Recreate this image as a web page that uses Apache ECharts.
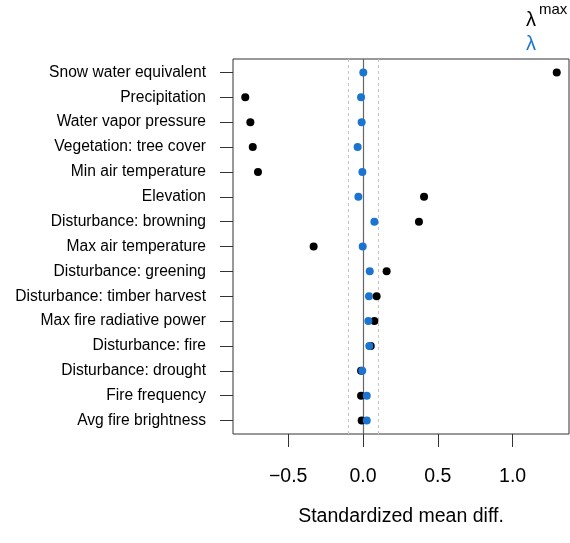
<!DOCTYPE html>
<html>
<head>
<meta charset="utf-8">
<script src="https://cdn.jsdelivr.net/npm/echarts@6/dist/echarts.min.js"></script>
<style>
html,body{margin:0;padding:0;background:#fff;}
#chart{width:570px;height:543px;}
</style>
</head>
<body>
<div id="chart"></div>
<script>
// Categories, top to bottom
const categories = [
  'Snow water equivalent',
  'Precipitation',
  'Water vapor pressure',
  'Vegetation: tree cover',
  'Min air temperature',
  'Elevation',
  'Disturbance: browning',
  'Max air temperature',
  'Disturbance: greening',
  'Disturbance: timber harvest',
  'Max fire radiative power',
  'Disturbance: fire',
  'Disturbance: drought',
  'Fire frequency',
  'Avg fire brightness'
];
// Standardized mean differences
const lambdaMax = [1.295, -0.787, -0.753, -0.737, -0.702, 0.408, 0.374, -0.330, 0.158, 0.091, 0.076, 0.052, -0.013, -0.013, -0.009];
const lambdaVals = [0.002, -0.013, -0.009, -0.036, -0.004, -0.031, 0.076, -0.002, 0.045, 0.040, 0.036, 0.042, -0.005, 0.025, 0.025];
// Axis ticks
const xTickValues = [-0.5, 0, 0.5, 1.0];
const xTickLabels = ['\u22120.5', '0.0', '0.5', '1.0'];
const refLines = [-0.1, 0.1];
const xTitle = 'Standardized mean diff.';

const n = categories.length;
const rowPos = categories.map((c, i) => n - i);
const FONT = '"Liberation Sans", Arial, sans-serif';
const BLUE = '#1b74d0';

const chart = echarts.init(document.getElementById('chart'), null, {renderer: 'canvas'});
chart.setOption({
  animation: false,
  backgroundColor: '#ffffff',
  grid: {left: 233, top: 59, width: 336, height: 375, show: true, borderColor: '#333', borderWidth: 1, backgroundColor: 'transparent'},
  xAxis: {
    type: 'value', min: -0.869, max: 1.377,
    axisLine: {show: false, onZero: false},
    splitLine: {show: false},
    axisTick: {show: true, customValues: xTickValues, length: 13, lineStyle: {color: '#333', width: 1}},
    axisLabel: {customValues: xTickValues, margin: 33, fontFamily: FONT, fontSize: 19.5, color: '#000',
      formatter: v => xTickLabels[xTickValues.indexOf(v)]},
    name: xTitle, nameLocation: 'middle', nameGap: 73,
    nameTextStyle: {fontFamily: FONT, fontSize: 19.5, color: '#000'}
  },
  yAxis: {
    type: 'value', min: 0.46, max: 15.54,
    axisLine: {show: false, onZero: false},
    splitLine: {show: false},
    axisTick: {show: true, customValues: rowPos, length: 13, lineStyle: {color: '#333', width: 1}},
    axisLabel: {customValues: rowPos, margin: 27, fontFamily: FONT, fontSize: 15.6, color: '#000',
      formatter: v => categories[n - v]}
  },
  series: [
    {
      type: 'scatter', symbol: 'circle', symbolSize: 8, z: 3,
      itemStyle: {color: '#000', opacity: 1},
      data: lambdaMax.map((v, i) => [v, rowPos[i]]),
      markLine: {
        silent: true, symbol: ['none', 'none'], label: {show: false},
        data: [
          {xAxis: 0, lineStyle: {color: '#666', width: 1.2, type: 'solid'}},
          ...refLines.map(x => ({xAxis: x, lineStyle: {color: '#c4c4c4', width: 1, type: [3, 3]}}))
        ],
        z: 1
      }
    },
    {
      type: 'scatter', symbol: 'circle', symbolSize: 8, z: 4,
      itemStyle: {color: BLUE, opacity: 1},
      data: lambdaVals.map((v, i) => [v, rowPos[i]])
    }
  ],
  graphic: [
    {type: 'text', left: 526, top: 10, style: {text: '\u03bb', fontFamily: FONT, fontSize: 20, fill: '#000'}},
    {type: 'text', left: 539, top: 2, style: {text: 'max', fontFamily: FONT, fontSize: 15, fill: '#000'}},
    {type: 'text', left: 526, top: 34, style: {text: '\u03bb', fontFamily: FONT, fontSize: 20, fill: BLUE}}
  ]
});
</script>
</body>
</html>
